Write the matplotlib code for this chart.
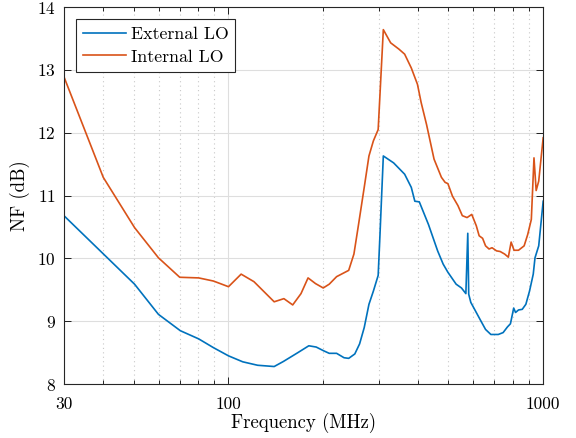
import numpy as np
import matplotlib
matplotlib.use("Agg")
import matplotlib.pyplot as plt
from matplotlib.ticker import FixedLocator, NullFormatter

plt.rcParams['font.family'] = 'serif'
plt.rcParams['font.serif'] = ['cmr10', 'DejaVu Serif']
plt.rcParams['mathtext.fontset'] = 'cm'
plt.rcParams['axes.formatter.use_mathtext'] = True

# External LO (MHz, dB)
ext_freq = [30, 50.3, 59.9, 70.3, 80.4, 89.6, 100, 111, 123.8, 139.7, 149.4, 166, 180,
            190, 200.7, 209, 220.6, 232.9, 241, 252, 261, 270, 279.5, 288.7, 299, 303,
            310.5, 334.8, 362.9, 381, 391, 404, 432, 462, 481, 498, 529, 550, 568, 576,
            580, 589, 613, 630, 656, 682, 720, 746, 770, 787, 806, 817, 835, 858, 881,
            905, 930, 942, 968, 1000]
ext_nf = [10.68, 9.59, 9.11, 8.85, 8.72, 8.58, 8.45, 8.355, 8.30, 8.28, 8.36, 8.50, 8.61,
          8.59, 8.53, 8.49, 8.49, 8.42, 8.41, 8.48, 8.64, 8.90, 9.27, 9.48, 9.73, 10.38,
          11.63, 11.52, 11.34, 11.13, 10.91, 10.90, 10.54, 10.12, 9.91, 9.78, 9.59, 9.53, 9.44, 10.40,
          9.43, 9.30, 9.14, 9.03, 8.87, 8.79, 8.79, 8.82, 8.91, 8.96, 9.21, 9.14, 9.18, 9.19, 9.27,
          9.48, 9.75, 10.01, 10.20, 10.91]

# Internal LO (MHz, dB)
int_freq = [30, 40, 50.3, 59.9, 70, 80.4, 89.6, 100, 109.7, 120.5, 139.7, 150, 160, 170,
            179, 189, 200, 209, 220.6, 241, 250.4, 259, 270, 279.5, 288.7, 299, 310.5,
            327.6, 348, 362.9, 381, 398.6, 409.5, 426, 450, 475, 488, 498, 515, 536, 553.5,
            573, 593, 613, 626, 642, 656, 673, 688, 711, 730, 754, 775, 791, 808, 835,
            870, 893, 917, 935, 950, 968, 1000]
int_nf = [12.89, 11.29, 10.49, 10.01, 9.70, 9.69, 9.64, 9.55, 9.75, 9.63, 9.31, 9.36, 9.26, 9.44,
          9.69, 9.60, 9.53, 9.59, 9.71, 9.81, 10.07, 10.54, 11.13, 11.63, 11.87, 12.05, 13.64,
          13.43, 13.33, 13.25, 13.03, 12.77, 12.48, 12.13, 11.58, 11.29, 11.21, 11.19, 10.99, 10.84, 10.68,
          10.65, 10.70, 10.52, 10.36, 10.32, 10.20, 10.15, 10.17, 10.12, 10.11, 10.07, 10.02, 10.26, 10.13, 10.13,
          10.20, 10.38, 10.62, 11.60, 11.08, 11.23, 11.92]

x_ticks = [30, 100, 1000]
x_ticklabels = ['30', '100', '1000']
y_ticks = [8, 9, 10, 11, 12, 13, 14]

fig = plt.figure(figsize=(5.76, 4.38), dpi=100)
ax = fig.add_axes([0.111, 0.123, 0.832, 0.861])

ax.plot(ext_freq, ext_nf, color='#0072BD', lw=1.2, label='External LO')
ax.plot(int_freq, int_nf, color='#D95319', lw=1.2, label='Internal LO')

ax.set_xscale('log')
ax.set_xlim(30, 1000)
ax.set_ylim(8, 14)
ax.xaxis.set_major_locator(FixedLocator(x_ticks))
ax.set_xticklabels(x_ticklabels)
minor = list(range(40, 100, 10)) + list(range(200, 1000, 100))
ax.xaxis.set_minor_locator(FixedLocator(minor))
ax.xaxis.set_minor_formatter(NullFormatter())
ax.set_yticks(y_ticks)

ax.grid(True, which='major', color='#dedede', lw=0.8)
ax.grid(True, which='minor', axis='x', color='#c8c8c8', lw=0.8, ls=(0, (1, 3)))
ax.set_axisbelow(True)

ax.tick_params(which='both', direction='in', top=True, right=True, labelsize=12.5, width=0.6)
ax.tick_params(which='major', length=5)
ax.tick_params(which='minor', length=3)
ax.tick_params(axis='x', which='major', pad=9)
ax.tick_params(axis='y', which='major', pad=6)
for s in ax.spines.values():
    s.set_linewidth(0.8)
    s.set_color('#262626')

ax.set_xlabel('Frequency (MHz)', fontsize=13.5, labelpad=1)
ax.set_ylabel('NF (dB)', fontsize=13.5, labelpad=5)

leg = ax.legend(loc='upper left', fontsize=12.8, frameon=True, fancybox=False,
                edgecolor='#262626', framealpha=1, handlelength=2.4,
                borderaxespad=0.7, borderpad=0.4, labelspacing=0.4, handletextpad=0.25)
leg.get_frame().set_linewidth(0.8)

fig.savefig('out.png', dpi=100)
